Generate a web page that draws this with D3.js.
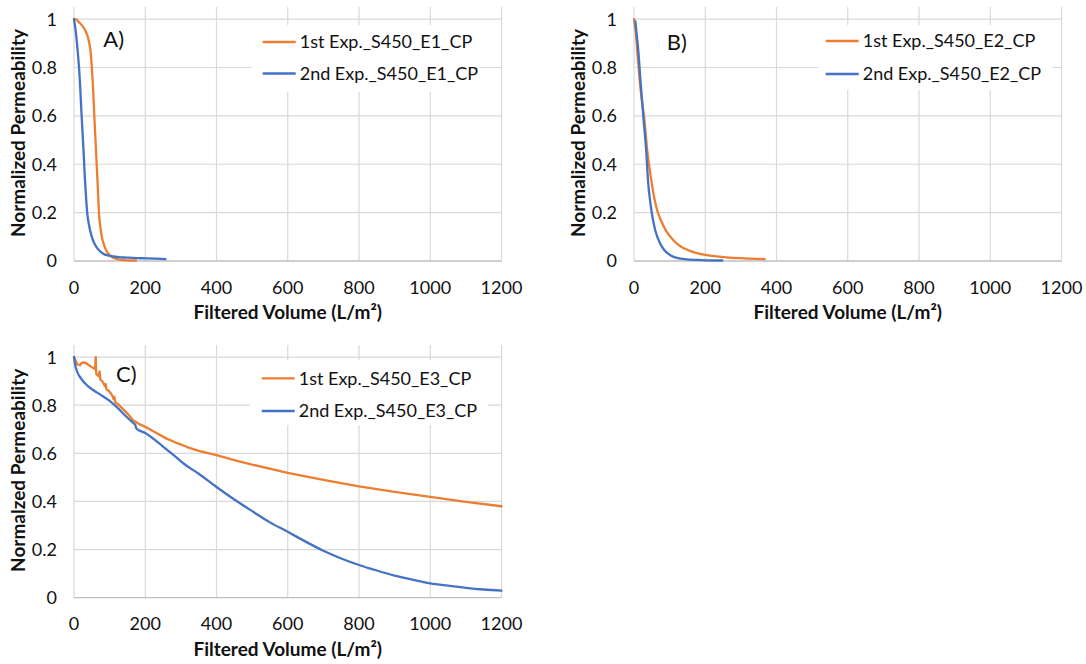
<!DOCTYPE html>
<html>
<head>
<meta charset="utf-8">
<script src="https://cdn.jsdelivr.net/npm/d3@7"></script>
<style>
  html, body { margin: 0; padding: 0; background: #fff; }
  svg { display: block; }
  text { font-family: Lato, "Open Sans", sans-serif; fill: #111; }
</style>
</head>
<body>
<svg id="chart" width="1086" height="664"></svg>
<script>
// Axis ticks shared by all three panels
const xTicks = [0, 200, 400, 600, 800, 1000, 1200];
const yTicks = [0, 0.2, 0.4, 0.6, 0.8, 1];

// Series: [filtered volume (L/m²), normalized permeability]
const e1First = [[0,1],[5,1.0],[12,0.99],[22,0.975],[31,0.955],[38,0.93],[43,0.9],[47,0.86],[50,0.8],[54,0.7],[57,0.6],[61,0.48],[64,0.39],[67,0.3],[70,0.2],[74,0.14],[78,0.1],[84,0.068],[90,0.045],[100,0.025],[110,0.013],[125,0.007],[140,0.004],[174,0.002]];
const e1Second = [[0,1],[3,0.97],[5.6,0.94],[9,0.89],[12,0.84],[15,0.78],[17,0.73],[20,0.64],[24,0.53],[28,0.42],[31,0.33],[34,0.26],[37,0.2],[42,0.15],[50,0.1],[58,0.07],[68,0.048],[80,0.032],[101,0.021],[125,0.016],[148,0.014],[175,0.012],[204,0.011],[230,0.0095],[257,0.008]];

const e2First = [[0,1],[3,0.97],[6,0.93],[9,0.87],[13,0.8],[17,0.73],[22,0.665],[28,0.6],[37,0.46],[43,0.39],[50,0.32],[57,0.26],[65,0.21],[78,0.16],[92,0.12],[110,0.087],[129,0.062],[155,0.043],[185,0.029],[220,0.021],[260,0.015],[310,0.011],[367,0.008]];
const e2Second = [[4,0.99],[6,0.96],[8,0.93],[12,0.87],[19,0.73],[26,0.6],[34,0.46],[40,0.32],[46,0.24],[52,0.18],[60,0.125],[73,0.073],[86,0.043],[101,0.025],[120,0.013],[148,0.007],[190,0.004],[248,0.002]];

const e3First = [[0,1.0],[3,0.99],[9,0.97],[17,0.966],[21,0.975],[27,0.978],[33,0.975],[40,0.968],[48,0.96],[55,0.953],[59,0.95],[61,1.0],[62.5,0.93],[66,0.925],[69,0.92],[72,0.94],[74,0.905],[79,0.9],[84,0.888],[87,0.878],[89,0.888],[91,0.866],[97,0.86],[103,0.85],[108,0.838],[111,0.825],[113,0.835],[116,0.812],[122,0.805],[130,0.795],[150,0.765],[166,0.737],[185,0.72],[200,0.71],[230,0.685],[260,0.661],[290,0.642],[316,0.627],[350,0.61],[400,0.592],[450,0.572],[500,0.553],[600,0.519],[700,0.49],[800,0.463],[900,0.44],[1000,0.419],[1100,0.398],[1200,0.38]];
const e3Second = [[0,1],[3,0.97],[8,0.943],[20,0.91],[40,0.878],[73,0.845],[100,0.818],[118,0.795],[145,0.755],[166,0.726],[172,0.718],[175,0.703],[200,0.684],[250,0.628],[297,0.571],[303,0.563],[350,0.515],[400,0.46],[450,0.408],[503,0.357],[550,0.313],[600,0.274],[650,0.233],[700,0.195],[750,0.163],[800,0.136],[850,0.113],[900,0.092],[950,0.075],[1000,0.06],[1050,0.05],[1100,0.041],[1150,0.034],[1200,0.029]];

const colors = { first: "#ED7D31", second: "#4472C4" };

const panels = [
  { tag: "A)", yTitle: "Normalized Permeability", left: 74, top: 7, bottom: 261,
    series: [{ name: "1st Exp._S450_E1_CP", data: e1First, c: colors.first, smooth: true },
             { name: "2nd Exp._S450_E1_CP", data: e1Second, c: colors.second, smooth: true }],
    legend: { x0: 178, y0: 18, w: 228, h: 67, lx: 188.7, ly: 35, gap: 31.5 },
    label: { dx: 29.3, dy: 39.7 } },
  { tag: "B)", yTitle: "Normalized Permeability", left: 634, top: 7, bottom: 261,
    series: [{ name: "1st Exp._S450_E2_CP", data: e2First, c: colors.first, smooth: true },
             { name: "2nd Exp._S450_E2_CP", data: e2Second, c: colors.second, smooth: true }],
    legend: { x0: 184, y0: 18, w: 234, h: 65, lx: 191.7, ly: 34, gap: 33 },
    label: { dx: 32.7, dy: 42.5 } },
  { tag: "C)", yTitle: "Normalzed Permeability", left: 74, top: 345, bottom: 597.7,
    series: [{ name: "1st Exp._S450_E3_CP", data: e3First, c: colors.first, smooth: false },
             { name: "2nd Exp._S450_E3_CP", data: e3Second, c: colors.second, smooth: true }],
    legend: { x0: 176, y0: 15, w: 238, h: 65, lx: 187.7, ly: 33.3, gap: 32.7 },
    label: { dx: 42, dy: 36.7 } }
];

const svg = d3.select("#chart");
const plotW = 427.5;

panels.forEach(p => {
  const x = d3.scaleLinear().domain([0, 1200]).range([p.left, p.left + plotW]);
  const y = d3.scaleLinear().domain([0, 1.05]).range([p.bottom, p.top]);
  const g = svg.append("g");

  // gridlines
  g.selectAll(".vg").data(xTicks).join("line")
    .attr("x1", d => x(d)).attr("x2", d => x(d))
    .attr("y1", p.top).attr("y2", p.bottom)
    .attr("stroke", "#d9d9d9").attr("stroke-width", 1.2);
  g.selectAll(".hg").data(yTicks.filter(d => d > 0)).join("line")
    .attr("x1", p.left).attr("x2", p.left + plotW)
    .attr("y1", d => y(d)).attr("y2", d => y(d))
    .attr("stroke", "#d9d9d9").attr("stroke-width", 1.2);

  // x axis line at zero
  g.append("line")
    .attr("x1", p.left).attr("x2", p.left + plotW)
    .attr("y1", y(0)).attr("y2", y(0))
    .attr("stroke", "#bfbfbf").attr("stroke-width", 1.3);

  // tick labels
  g.selectAll(".xt").data(xTicks).join("text")
    .attr("x", d => x(d)).attr("y", p.bottom + 32.5)
    .attr("text-anchor", "middle").attr("font-size", 18)
    .text(d => d);
  g.selectAll(".yt").data(yTicks).join("text")
    .attr("x", p.left - 17).attr("y", d => y(d))
    .attr("dy", "0.36em")
    .attr("text-anchor", "end").attr("font-size", 18)
    .text(d => d3.format("~g")(d));

  // axis titles
  g.append("text")
    .attr("x", p.left + plotW / 2).attr("y", p.bottom + 58)
    .attr("text-anchor", "middle").attr("font-size", 19).attr("font-weight", "bold")
    .text("Filtered Volume (L/m²)");
  g.append("text")
    .attr("transform", `translate(${p.left - 56},${(p.top + p.bottom) / 2 - 1}) rotate(-90)`)
    .attr("text-anchor", "middle").attr("dy", "0.36em")
    .attr("font-size", 19).attr("font-weight", "bold")
    .text(p.yTitle);

  // series
  p.series.forEach(s => {
    const line = d3.line()
      .x(d => x(d[0])).y(d => y(d[1]))
      .curve(s.smooth ? d3.curveMonotoneX : d3.curveLinear);
    g.append("path").datum(s.data)
      .attr("d", line)
      .attr("fill", "none").attr("stroke", s.c)
      .attr("stroke-width", 2.3).attr("stroke-linejoin", "round").attr("stroke-linecap", "round");
  });

  // panel tag
  g.append("text")
    .attr("x", p.left + p.label.dx).attr("y", p.top + p.label.dy)
    .attr("font-family", "'Liberation Sans', Arial, sans-serif")
    .attr("font-size", 22)
    .text(p.tag);

  // legend
  const L = p.legend;
  const lg = g.append("g").attr("transform", `translate(${p.left},${p.top})`);
  lg.append("rect").attr("x", L.x0).attr("y", L.y0).attr("width", L.w).attr("height", L.h)
    .attr("fill", "#fff");
  p.series.forEach((s, i) => {
    const ly = L.ly + i * L.gap;
    lg.append("line").attr("x1", L.lx).attr("x2", L.lx + 33)
      .attr("y1", ly).attr("y2", ly)
      .attr("stroke", s.c).attr("stroke-width", 2.3);
    lg.append("text").attr("x", L.lx + 37).attr("y", ly).attr("dy", "0.36em")
      .attr("font-size", 18).text(s.name);
  });
});
</script>
</body>
</html>
